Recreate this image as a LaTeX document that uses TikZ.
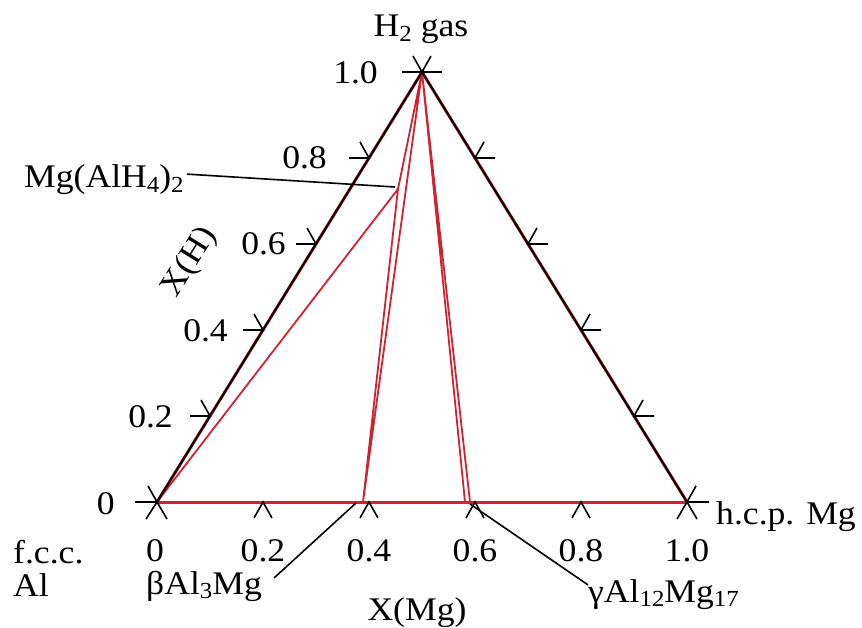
\documentclass[tikz,border=0pt]{standalone}
\usepackage{fontspec}
\setmainfont{Liberation Serif}[FakeStretch=1.08]
\usetikzlibrary{calc}
\definecolor{phred}{RGB}{205,35,50}
\newcommand\lowidx[1]{\raisebox{-0.3ex}{\fontsize{23}{23}\selectfont #1}}
\begin{document}
\begin{tikzpicture}[x=1pt,y=-1pt,
  lbl/.style={font=\fontsize{33}{38}\selectfont, inner sep=0pt},
  blackedge/.style={line width=2pt, black},
  redline/.style={line width=1.8pt, phred},
  tickmark/.style={line width=1.6pt, black},
  leader/.style={line width=1.6pt, black}]
\useasboundingbox (0,0) rectangle (862,628);
\coordinate (A) at (157,502);
\coordinate (B) at (687,502);
\coordinate (T) at (422,72);
\coordinate (P) at (398,189);
\coordinate (Be) at (363,502);
\coordinate (G1) at (465,502);
\coordinate (G2) at (470,502);

% phase boundary lines
\draw[redline] (A) -- (P) -- (Be) -- (T) -- (P);
\draw[redline] (T) -- (G1) (T) -- (G2);
\draw[redline, line width=3pt] (A) -- (B);
\draw[redline, line width=3pt] (A) -- (T) -- (B);
\draw[blackedge] (A) -- (T) -- (B);

% ticks
\foreach \t in {0.2,0.4,0.6,0.8} {
  \draw[tickmark] ($(A)!\t!(B)$) ++(-9,16) -- ++(9,-16) -- ++(9,16);
  \draw[tickmark] ($(A)!\t!(T)$) ++(-20,0) -- ++(20,0) -- ++(-9,-16);
  \draw[tickmark] ($(T)!\t!(B)$) ++(20,0) -- ++(-20,0) -- ++(9,-16);
}
\draw[tickmark] (T) ++(-20,0) -- ++(40,0);
\draw[tickmark] (T) ++(-9,-16) -- ++(9,16) -- ++(9,-16);
\draw[tickmark] (A) ++(-22,0) -- (A) -- ++(-9,-16);
\draw[tickmark] (A) ++(-11,17) -- (A) -- ++(10,17);
\draw[tickmark] (B) ++(22,0) -- (B) -- ++(9,-16);
\draw[tickmark] (B) ++(-10,17) -- (B) -- ++(10,17);

% axis labels
\node[lbl, anchor=base] (h2) at (421,37) {H\lowidx{2} gas};
\node[lbl, anchor=base east] (l10) at (378,84) {1.0};
\node[lbl, anchor=base east] (l08) at ($(A)!0.8!(T)+(-42,11)$) {0.8};
\node[lbl, anchor=base east] (l06) at ($(A)!0.6!(T)+(-30,11)$) {0.6};
\node[lbl, anchor=base east] (l04) at ($(A)!0.4!(T)+(-35,11)$) {0.4};
\node[lbl, anchor=base east] (l02) at ($(A)!0.2!(T)+(-37,11)$) {0.2};
\node[lbl, anchor=base east] (l00) at (115,514) {0};
\node[lbl, anchor=base] (b00) at (155,561) {0};
\foreach \t/\n in {0.2/b02,0.4/b04,0.6/b06,0.8/b08,1.0/b10}
  \node[lbl, anchor=base] (\n) at ($(A)!\t!(B)+(0,59)$) {\t};
\node[lbl, rotate=58] (xh) at (190,262) {X(H)};
\node[lbl, anchor=base] (xmg) at (417,620) {X(Mg)};
\node[lbl, anchor=base west] (hcp) at (716,524) {h.c.p. Mg};
\node[lbl, anchor=base west] (fcc) at (13,563) {f.c.c.};
\node[lbl, anchor=base west] (al) at (13,596) {Al};

% phase labels with leaders
\node[lbl, anchor=base west] (mgal) at (24,188) {Mg(AlH\lowidx{4})\lowidx{2}};
\node[lbl, anchor=base west] (beta) at (146,594) {βAl\lowidx{3}Mg};
\node[lbl, anchor=base west] (gam) at (588,602) {γAl\lowidx{12}Mg\lowidx{17}};
\coordinate (mgtip) at (395,187);
\coordinate (betatip) at (356,503);
\coordinate (gamtip) at (470,504);
\draw[leader] ($(mgal.east)+(3,-6)$) -- (mgtip);
\draw[leader] ($(beta.east)+(12,-8)$) -- (betatip);
\draw[leader] ($(gam.north west)+(0,6)$) -- (gamtip);
\end{tikzpicture}
\end{document}
